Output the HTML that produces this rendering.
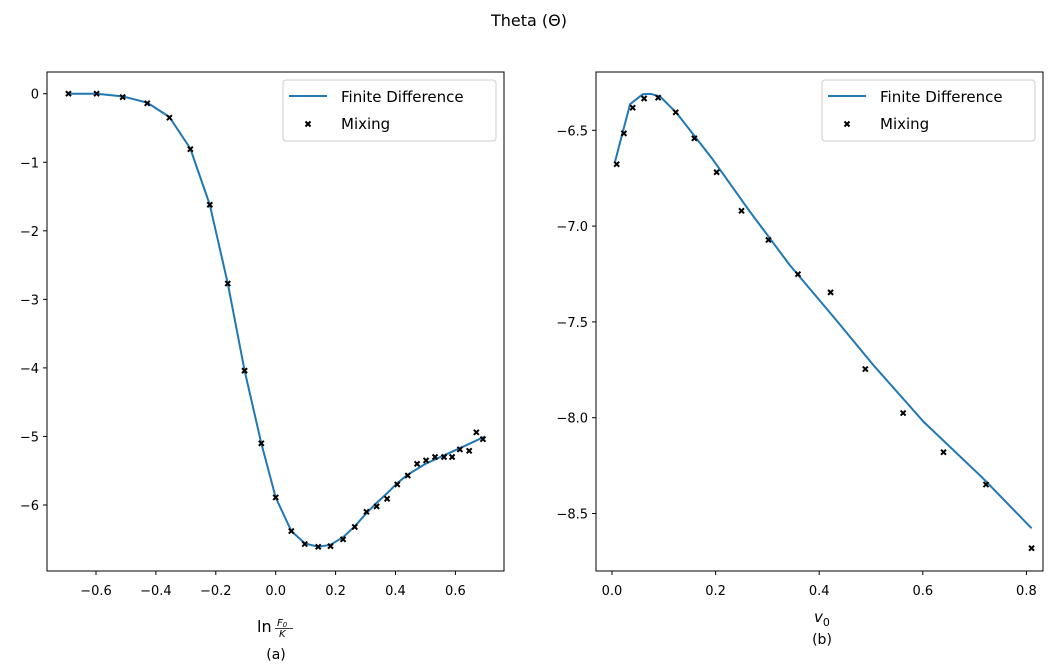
<!DOCTYPE html>
<html><head><meta charset="utf-8"><style>
body{margin:0;background:#fff;}
svg text{font-family:"DejaVu Sans","Liberation Sans",sans-serif;fill:#000;}
</style></head><body>
<svg id="fig" width="1059" height="663" viewBox="0 0 1059 663" xmlns="http://www.w3.org/2000/svg">
<text x="529" y="26" font-size="16" text-anchor="middle">Theta (Θ)</text>
</svg>
<script>
// Panel (a)
const aMixX=[-0.692,-0.598,-0.511,-0.429,-0.355,-0.285,-0.220,-0.160,-0.104,-0.048,0.0,0.052,0.097,0.142,0.183,0.225,0.264,0.303,0.337,0.372,0.406,0.441,0.472,0.502,0.532,0.562,0.589,0.615,0.646,0.670,0.692];
const aMixY=[0,0,-0.05,-0.14,-0.35,-0.81,-1.62,-2.77,-4.04,-5.10,-5.89,-6.38,-6.57,-6.61,-6.60,-6.50,-6.32,-6.10,-6.02,-5.91,-5.70,-5.57,-5.40,-5.35,-5.30,-5.30,-5.30,-5.19,-5.21,-4.94,-5.04];
const aLineX=[-0.692,-0.598,-0.511,-0.429,-0.355,-0.285,-0.220,-0.160,-0.104,-0.048,0.0,0.052,0.097,0.142,0.183,0.225,0.264,0.303,0.337,0.372,0.406,0.44,0.5,0.55,0.6,0.65,0.699];
const aLineY=[0,0,-0.04,-0.13,-0.34,-0.80,-1.62,-2.77,-4.04,-5.10,-5.89,-6.38,-6.56,-6.61,-6.58,-6.47,-6.31,-6.12,-5.97,-5.83,-5.68,-5.56,-5.40,-5.30,-5.20,-5.10,-5.00];
const aXTicks=[-0.6,-0.4,-0.2,0.0,0.2,0.4,0.6];
const aYTicks=[0,-1,-2,-3,-4,-5,-6];
// Panel (b)
const bMixX=[0.009,0.023,0.040,0.062,0.089,0.123,0.159,0.202,0.250,0.302,0.359,0.422,0.489,0.562,0.640,0.722,0.810];
const bMixY=[-6.677,-6.516,-6.382,-6.334,-6.330,-6.406,-6.542,-6.719,-6.920,-7.072,-7.251,-7.346,-7.746,-7.976,-8.180,-8.349,-8.681];
const bLineX=[0.006,0.020,0.035,0.059,0.075,0.093,0.125,0.195,0.266,0.343,0.427,0.504,0.601,0.716,0.810];
const bLineY=[-6.663,-6.516,-6.364,-6.312,-6.310,-6.324,-6.411,-6.654,-6.924,-7.203,-7.472,-7.724,-8.02,-8.316,-8.577];
const bXTicks=[0.0,0.2,0.4,0.6,0.8];
const bYTicks=[-6.5,-7.0,-7.5,-8.0,-8.5];

const NS="http://www.w3.org/2000/svg";
const svg=document.getElementById('fig');
function mk(tag,attrs,parent){const e=document.createElementNS(NS,tag);for(const k in attrs)e.setAttribute(k,attrs[k]);(parent||svg).appendChild(e);return e;}
function fmt(v,d){let s=v.toFixed(d);return (v<0?'\u2212'+s.slice(1):s);}

function panel(p){
  const g=mk('g',{});
  
  
  const X=v=>p.x0+v*p.xs, Y=v=>p.y0-(v-p.yref)*p.ys;
  const frame=mk('rect',{x:p.L,y:p.T,width:p.R-p.L,height:p.B-p.T,fill:'none',stroke:'#000','stroke-width':1},g);
  
  
  p.xt.forEach(v=>{const x=X(v);mk('line',{x1:x,x2:x,y1:p.B,y2:p.B+4,stroke:'#000'},g);
    const t=mk('text',{x:x,y:p.B+24,'font-size':13,'text-anchor':'middle'},g);t.textContent=fmt(v,1);
    
    });
  p.yt.forEach(v=>{const y=Y(v);mk('line',{x1:p.L-4,x2:p.L,y1:y,y2:y,stroke:'#000'},g);
    const t=mk('text',{x:p.L-8,y:y+5,'font-size':13,'text-anchor':'end'},g);t.textContent=fmt(v,p.yd);
    
    });
  const d=p.lx.map((v,i)=>(i?'L':'M')+X(v).toFixed(1)+' '+Y(p.ly[i]).toFixed(1)).join(' ');
  const ln=mk('path',{d:d,fill:'none',stroke:'#1f77b4','stroke-width':2,'stroke-linejoin':'round'},g);
  
  
  p.mx.forEach((v,i)=>{const x=X(v),y=Y(p.my[i]);
    const m=mk('path',{d:`M${x-2.5} ${y-2.5}L${x+2.5} ${y+2.5}M${x-2.5} ${y+2.5}L${x+2.5} ${y-2.5}`,stroke:'#000','stroke-width':2},g);
    
    });
  const lg=mk('g',{},g);
  
  
  mk('rect',{x:p.R-221,y:80,width:213,height:61,rx:3,fill:'#fff','fill-opacity':0.8,stroke:'#ccc'},lg);
  mk('line',{x1:p.R-215,x2:p.R-177,y1:96,y2:96,stroke:'#1f77b4','stroke-width':2},lg);
  const xx=p.R-196,yy=124;
  mk('path',{d:`M${xx-2.5} ${yy-2.5}L${xx+2.5} ${yy+2.5}M${xx-2.5} ${yy+2.5}L${xx+2.5} ${yy-2.5}`,stroke:'#000','stroke-width':2},lg);
  const t1=mk('text',{x:p.R-163,y:102,'font-size':15},lg);t1.textContent='Finite Difference';
  
  
  const t2=mk('text',{x:p.R-163,y:129,'font-size':15},lg);t2.textContent='Mixing';
  
  
}
panel({name:'panel-a',L:47,T:72,R:504,B:571,x0:275.7,xs:299.5,y0:93.7,yref:0,ys:68.55,yd:0,xt:aXTicks,yt:aYTicks,lx:aLineX,ly:aLineY,mx:aMixX,my:aMixY});
panel({name:'panel-b',L:596,T:72,R:1043,B:571,x0:612,xs:518,y0:130.3,yref:-6.5,ys:191.6,yd:1,xt:bXTicks,yt:bYTicks,lx:bLineX,ly:bLineY,mx:bMixX,my:bMixY});
</script>
<svg style="position:absolute;left:0;top:0" width="1059" height="663">
<g font-family="DejaVu Sans, Liberation Sans, sans-serif">
<text x="257" y="632" font-size="16">ln</text>
<text x="277" y="626" font-size="10" font-style="italic">F<tspan font-size="7" dy="1">0</tspan></text>
<line x1="275" x2="293" y1="628.5" y2="628.5" stroke="#000" stroke-width="0.8"/>
<text x="279" y="637" font-size="10" font-style="italic">K</text>
<text x="276" y="659" font-size="14" text-anchor="middle">(a)</text>
<text x="814" y="622" font-size="15" font-style="italic">v<tspan font-size="11" font-style="normal" dy="4">0</tspan></text>
<text x="822" y="644" font-size="14" text-anchor="middle">(b)</text>
</g></svg>
</body></html>
